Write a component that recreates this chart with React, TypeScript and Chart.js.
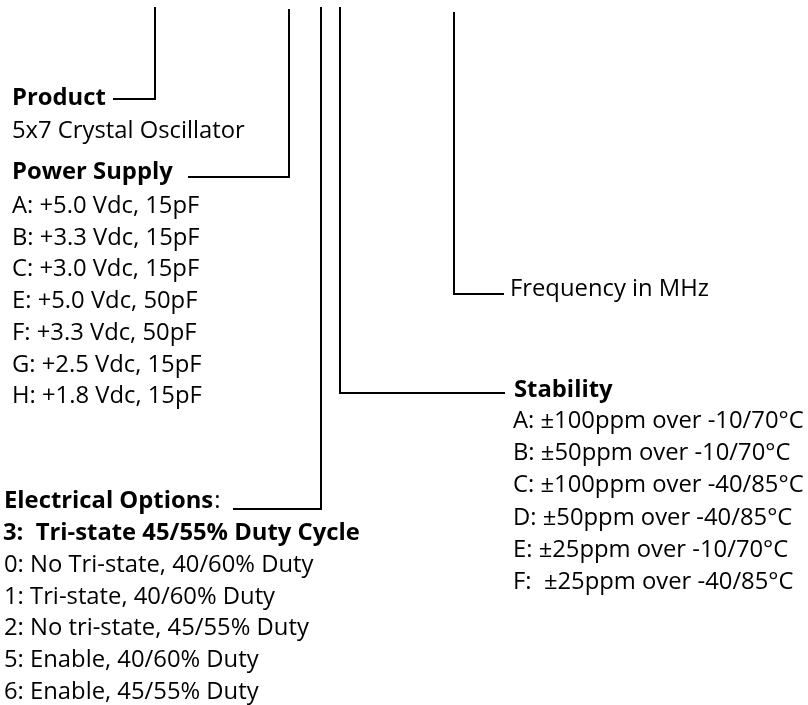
import React, { useEffect, useRef } from "react";
import { Chart, registerables } from "chart.js";

Chart.register(...registerables);

// ---- Text content ----
const productTitle = "Product";
const productDescription = ["5x7 Crystal Oscillator"];
const powerSupplyTitle = "Power Supply";
const powerSupplyOptions = [
  "A: +5.0 Vdc, 15pF",
  "B: +3.3 Vdc, 15pF",
  "C: +3.0 Vdc, 15pF",
  "E: +5.0 Vdc, 50pF",
  "F: +3.3 Vdc, 50pF",
  "G: +2.5 Vdc, 15pF",
  "H: +1.8 Vdc, 15pF",
];
const electricalTitle = "Electrical Options";
const electricalSelected = "3:  Tri-state 45/55% Duty Cycle";
const electricalOptions = [
  "0: No Tri-state, 40/60% Duty",
  "1: Tri-state, 40/60% Duty",
  "2: No tri-state, 45/55% Duty",
  "5: Enable, 40/60% Duty",
  "6: Enable, 45/55% Duty",
];
const frequencyLabel = "Frequency in MHz";
const stabilityTitle = "Stability";
const stabilityOptions = [
  "A: \u00b1100ppm over -10/70\u00b0C",
  "B: \u00b150ppm over -10/70\u00b0C",
  "C: \u00b1100ppm over -40/85\u00b0C",
  "D: \u00b150ppm over -40/85\u00b0C",
  "E: \u00b125ppm over -10/70\u00b0C",
  "F:  \u00b125ppm over -40/85\u00b0C",
];

// ---- Layout (diagram coordinates, in the chart's own linear scales) ----
const W = 808;
const H = 705;
const FONT_FAMILY = '"Open Sans", "Noto Sans", sans-serif';
const FONT_SIZE = 23.8;
const LEFT_X = 12;
const ELEC_X = 4;
const LINE_STEP = 31.7;

const connectors = [
  { name: "product", pts: [[155, 7], [155, 99], [113, 99]] },
  { name: "power", pts: [[289, 9], [289, 177], [188, 177]] },
  { name: "electrical", pts: [[321, 7], [321, 509], [233, 509]] },
  { name: "stability", pts: [[340, 7], [340, 393], [505, 393]] },
  { name: "frequency", pts: [[454, 12], [454, 294], [504, 294]] },
];

type TextItem = { text: string; x: number; y: number; bold?: boolean; suffix?: string };

function buildTextItems(): TextItem[] {
  const items: TextItem[] = [];
  items.push({ text: productTitle, x: LEFT_X, y: 105, bold: true });
  productDescription.forEach((t, i) => items.push({ text: t, x: LEFT_X, y: 138 + i * LINE_STEP }));
  items.push({ text: powerSupplyTitle, x: LEFT_X, y: 179, bold: true });
  powerSupplyOptions.forEach((t, i) => items.push({ text: t, x: LEFT_X, y: 213 + i * LINE_STEP }));
  items.push({ text: electricalTitle, x: ELEC_X, y: 508, bold: true, suffix: ":" });
  items.push({ text: electricalSelected, x: ELEC_X - 1, y: 540, bold: true });
  electricalOptions.forEach((t, i) => items.push({ text: t, x: ELEC_X, y: 572 + i * 31.7 }));
  items.push({ text: frequencyLabel, x: 510, y: 296 });
  items.push({ text: stabilityTitle, x: 514, y: 397, bold: true });
  stabilityOptions.forEach((t, i) => items.push({ text: t, x: 513, y: 428 + i * 32.2 }));
  return items;
}

const textPlugin = {
  id: "diagramText",
  afterDatasetsDraw(chart: any) {
    const { ctx, scales } = chart;
    const xs = scales.x;
    const ys = scales.y;
    ctx.save();
    ctx.fillStyle = "#000";
    ctx.textBaseline = "alphabetic";
    ctx.textAlign = "left";
    for (const it of buildTextItems()) {
      const px = xs.getPixelForValue(it.x);
      const py = ys.getPixelForValue(it.y);
      ctx.font = `${it.bold ? "bold " : ""}${FONT_SIZE}px ${FONT_FAMILY}`;
      ctx.fillText(it.text, px, py);
      if (it.suffix) {
        const w = ctx.measureText(it.text).width;
        ctx.font = `${FONT_SIZE}px ${FONT_FAMILY}`;
        ctx.fillText(it.suffix, px + w + 1, py);
      }
    }
    ctx.restore();
  },
};

export default function App() {
  const ref = useRef<HTMLCanvasElement | null>(null);

  useEffect(() => {
    if (!ref.current) return;
    const chart = new Chart(ref.current, {
      type: "scatter",
      data: {
        datasets: connectors.map((c) => ({
          label: c.name,
          data: c.pts.map(([x, y]) => ({ x, y })),
          showLine: true,
          borderColor: "#000",
          backgroundColor: "#000",
          borderWidth: 2,
          pointRadius: 0,
          pointHoverRadius: 0,
          fill: false,
          tension: 0,
          borderJoinStyle: "miter",
          borderCapStyle: "butt",
          clip: false,
        })) as any,
      },
      options: {
        responsive: false,
        animation: false,
        events: [],
        layout: { padding: 0 },
        plugins: {
          legend: { display: false },
          tooltip: { enabled: false },
        },
        scales: {
          x: { type: "linear", min: 0, max: W, display: false },
          y: { type: "linear", min: 0, max: H, reverse: true, display: false },
        },
      },
      plugins: [textPlugin],
    });
    return () => chart.destroy();
  }, []);

  return (
    <div style={{ position: "fixed", left: 0, top: 0, width: W, height: H, background: "#fff" }}>
      <canvas ref={ref} width={W} height={H} style={{ display: "block" }} />
    </div>
  );
}
